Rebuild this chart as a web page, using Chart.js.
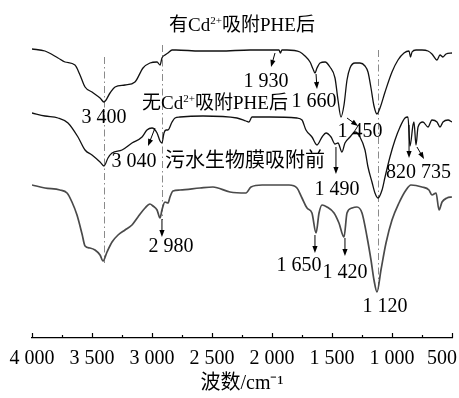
<!DOCTYPE html>
<html>
<head>
<meta charset="utf-8">
<script src="https://cdn.jsdelivr.net/npm/chart.js@4.4.1/dist/chart.umd.min.js"></script>
<style>
  html, body { margin: 0; padding: 0; background: #fff; }
  canvas { display: block; }
</style>
</head>
<body>
<canvas id="ftir" width="459" height="398"></canvas>
<script>
// FTIR spectra, wavenumber (cm-1) vs. relative transmittance (arbitrary, offset per curve)

// 有Cd2+吸附PHE后
const withCdWn = [4000, 3892, 3783, 3725, 3642, 3600, 3558, 3500, 3433, 3400, 3350, 3308, 3225, 3142, 3075, 3017, 2958, 2933, 2917, 2892, 2867, 2833, 2800, 2600, 2433, 2183, 2017, 1942, 1930, 1917, 1875, 1767, 1725, 1683, 1658, 1642, 1625, 1600, 1558, 1517, 1475, 1450, 1425, 1400, 1375, 1350, 1308, 1267, 1225, 1200, 1175, 1150, 1125, 1100, 1058, 1000, 950, 900, 858, 846, 833, 800, 750, 700, 667, 625, 600, 575, 550, 500];
const withCdT = [287, 285, 278, 274, 271, 261, 249, 244, 238, 234, 243, 249, 251, 254, 268, 273, 274, 271, 278, 281, 283, 286, 286, 285, 285, 286, 286, 286, 283, 286, 286, 284, 280, 274, 267, 263, 268, 273, 274, 269, 258, 236, 219, 231, 256, 268, 273, 273, 270, 264, 248, 230, 222, 228, 244, 264, 276, 283, 285, 279, 284, 286, 286, 285, 282, 276, 281, 279, 282, 283];

// 无Cd2+吸附PHE后
const noCdWn = [4000, 3892, 3783, 3700, 3617, 3558, 3500, 3433, 3400, 3367, 3333, 3250, 3167, 3083, 3042, 3000, 2958, 2933, 2917, 2900, 2883, 2867, 2833, 2808, 2767, 2575, 2292, 2217, 2192, 2167, 2017, 1792, 1750, 1717, 1667, 1625, 1583, 1550, 1508, 1475, 1450, 1417, 1392, 1350, 1308, 1267, 1225, 1200, 1167, 1142, 1117, 1083, 1058, 1017, 975, 933, 892, 867, 850, 825, 817, 800, 783, 742, 700, 667, 625, 600, 575, 533, 500];
const noCdT = [223, 220, 218, 213, 199, 186, 181, 174, 170, 178, 183, 186, 193, 199, 206, 208, 203, 195, 193, 203, 206, 206, 214, 218, 219, 220, 218, 215, 214, 219, 219, 218, 216, 206, 199, 191, 199, 203, 199, 192, 193, 184, 193, 199, 204, 199, 186, 169, 154, 143, 138, 146, 159, 179, 196, 209, 218, 219, 190, 211, 214, 191, 209, 214, 209, 216, 214, 209, 214, 216, 214];

// 污水生物膜吸附前
const biofilmWn = [4000, 3892, 3767, 3708, 3667, 3625, 3583, 3558, 3517, 3475, 3433, 3408, 3375, 3333, 3283, 3225, 3167, 3117, 3058, 3017, 2992, 2958, 2933, 2917, 2892, 2867, 2850, 2825, 2767, 2600, 2492, 2350, 2217, 2175, 2083, 1858, 1792, 1750, 1708, 1667, 1633, 1608, 1583, 1542, 1483, 1442, 1400, 1375, 1333, 1292, 1250, 1208, 1175, 1150, 1125, 1092, 1050, 1000, 942, 883, 842, 750, 692, 667, 633, 608, 583, 542, 500];
const biofilmT = [151, 148, 146, 143, 134, 121, 102, 90, 88, 86, 81, 75, 84, 94, 101, 106, 111, 119, 128, 132, 130, 126, 118, 126, 134, 133, 139, 145, 146, 148, 149, 144, 143, 149, 151, 151, 148, 138, 128, 123, 103, 123, 131, 129, 123, 113, 99, 123, 128, 129, 123, 99, 76, 56, 44, 66, 93, 116, 133, 146, 151, 149, 146, 141, 143, 126, 134, 138, 139];

const xTicks = [4000, 3500, 3000, 2500, 2000, 1500, 1000, 500];

// dash-dot guide lines: wavenumber, top, bottom
const guides = [[3400, 279, 73], [2920, 291, 116], [1120, 286, 44]];

// peak labels: wavenumber, level, font size, text parts (second item 1 = superscript)
const notes = [
  [2250, 311, 19, [['有Cd'], ['2+', 1], ['吸附PHE后']]],
  [3400, 220, 20, [['3 400']]],
  [2050, 256, 20, [['1 930']]],
  [2475, 233, 19, [['无Cd'], ['2+', 1], ['吸附PHE后']]],
  [1650, 236, 20, [['1 660']]],
  [1267, 206, 20, [['1 450']]],
  [3150, 176, 20, [['3 040']]],
  [2225, 176, 20, [['污水生物膜吸附前']]],
  [1458, 148, 20, [['1 490']]],
  [925, 165, 20, [['820']]],
  [633, 165, 20, [['735']]],
  [2842, 91, 20, [['2 980']]],
  [1775, 72, 20, [['1 650']]],
  [1392, 65, 20, [['1 420']]],
  [1058, 31, 20, [['1 120']]]
];

// arrows: from (wn, level) to (wn, level), head at the end
const arrows = [
  [1975, 283, 2008, 269],
  [1633, 262, 1625, 247],
  [1375, 218, 1283, 210],
  [2975, 208, 3033, 190],
  [1467, 189, 1467, 162],
  [858, 211, 858, 178],
  [792, 189, 733, 177],
  [2917, 117, 2917, 99],
  [1642, 101, 1642, 83],
  [1392, 98, 1392, 80]
];

const FONT = '"Liberation Serif", "Noto Sans CJK SC", serif';

function pairs(xs, ys) {
  return xs.map((x, i) => ({ x: x, y: ys[i] }));
}

function fmtWn(v) {
  if (v >= 1000) return Math.floor(v / 1000) + ' ' + String(v % 1000).padStart(3, '0');
  // keep the last label inside the canvas, like the original
  return v === 500 ? '500\u00a0\u00a0\u00a0\u00a0' : String(v);
}

function drawRich(ctx, parts, cx, cy, size) {
  const supSize = Math.round(size * 0.6);
  let total = 0;
  parts.forEach(p => {
    ctx.font = (p[1] ? supSize : size) + 'px ' + FONT;
    total += ctx.measureText(p[0]).width;
  });
  let x = cx - total / 2;
  const base = cy + size * 0.34;
  ctx.textAlign = 'left';
  ctx.textBaseline = 'alphabetic';
  parts.forEach(p => {
    ctx.font = (p[1] ? supSize : size) + 'px ' + FONT;
    ctx.fillText(p[0], x, p[1] ? base - size * 0.38 : base);
    x += ctx.measureText(p[0]).width;
  });
}

function drawArrow(ctx, x1, y1, x2, y2) {
  const a = Math.atan2(y2 - y1, x2 - x1);
  const len = 7, half = 2.6;
  ctx.beginPath();
  ctx.moveTo(x1, y1);
  ctx.lineTo(x2 - Math.cos(a) * len * 0.8, y2 - Math.sin(a) * len * 0.8);
  ctx.stroke();
  ctx.beginPath();
  ctx.moveTo(x2, y2);
  ctx.lineTo(x2 - Math.cos(a) * len - Math.sin(a) * half, y2 - Math.sin(a) * len + Math.cos(a) * half);
  ctx.lineTo(x2 - Math.cos(a) * len + Math.sin(a) * half, y2 - Math.sin(a) * len - Math.cos(a) * half);
  ctx.closePath();
  ctx.fill();
}

const annotations = {
  id: 'annotations',
  beforeDatasetsDraw(chart) {
    const { ctx, scales: { x, y } } = chart;
    ctx.save();
    ctx.strokeStyle = '#8a8a8a';
    ctx.lineWidth = 1;
    ctx.setLineDash([7, 3, 1.5, 3]);
    guides.forEach(g => {
      const px = Math.round(x.getPixelForValue(g[0])) + 0.5;
      ctx.beginPath();
      ctx.moveTo(px, y.getPixelForValue(g[1]));
      ctx.lineTo(px, y.getPixelForValue(g[2]));
      ctx.stroke();
    });
    ctx.restore();
  },
  afterDatasetsDraw(chart) {
    const { ctx, scales: { x, y } } = chart;
    ctx.save();
    ctx.fillStyle = '#000';
    ctx.strokeStyle = '#000';
    ctx.lineWidth = 1;
    notes.forEach(n => drawRich(ctx, n[3], x.getPixelForValue(n[0]), y.getPixelForValue(n[1]), n[2]));
    arrows.forEach(a => drawArrow(ctx,
      x.getPixelForValue(a[0]), y.getPixelForValue(a[1]),
      x.getPixelForValue(a[2]), y.getPixelForValue(a[3])));

    // inward tick marks on the wavenumber axis
    const bottom = chart.chartArea.bottom;
    ctx.lineWidth = 1.2;
    for (let v = 500; v <= 4000; v += 250) {
      const px = Math.round(x.getPixelForValue(v)) + 0.5;
      ctx.beginPath();
      ctx.moveTo(px, bottom);
      ctx.lineTo(px, bottom - (v % 500 === 0 ? 5 : 3));
      ctx.stroke();
    }
    ctx.restore();
  }
};

const lineStyle = {
  pointRadius: 0,
  fill: false,
  cubicInterpolationMode: 'monotone'
};

new Chart(document.getElementById('ftir'), {
  type: 'line',
  data: {
    datasets: [
      Object.assign({ label: '有Cd2+吸附PHE后', data: pairs(withCdWn, withCdT), borderColor: '#111', borderWidth: 1.3 }, lineStyle),
      Object.assign({ label: '无Cd2+吸附PHE后', data: pairs(noCdWn, noCdT), borderColor: '#111', borderWidth: 1.3 }, lineStyle),
      Object.assign({ label: '污水生物膜吸附前', data: pairs(biofilmWn, biofilmT), borderColor: '#4a4a4a', borderWidth: 1.7 }, lineStyle)
    ]
  },
  options: {
    responsive: false,
    animation: false,
    layout: { padding: { left: 32, right: 7, top: 16, bottom: 0 } },
    plugins: { legend: { display: false }, tooltip: { enabled: false } },
    scales: {
      x: {
        type: 'linear',
        reverse: true,
        min: 500,
        max: 4000,
        afterBuildTicks(scale) {
          scale.ticks = xTicks.map(v => ({ value: v }));
        },
        afterFit(scale) {
          scale.height = 60;
          scale.paddingLeft = 0;
          scale.paddingRight = 0;
        },
        ticks: {
          autoSkip: false,
          maxRotation: 0,
          padding: 9,
          color: '#000',
          font: { family: FONT, size: 20 },
          callback: v => fmtWn(v)
        },
        grid: { drawOnChartArea: false, drawTicks: false },
        border: { display: true, color: '#000', width: 1.2 },
        title: {
          display: true,
          text: '波数/cm⁻¹',
          color: '#000',
          font: { family: FONT, size: 20 },
          padding: { top: 0, bottom: 2 }
        }
      },
      y: {
        display: false,
        min: -2,
        max: 320
      }
    }
  },
  plugins: [annotations]
});
</script>
</body>
</html>
